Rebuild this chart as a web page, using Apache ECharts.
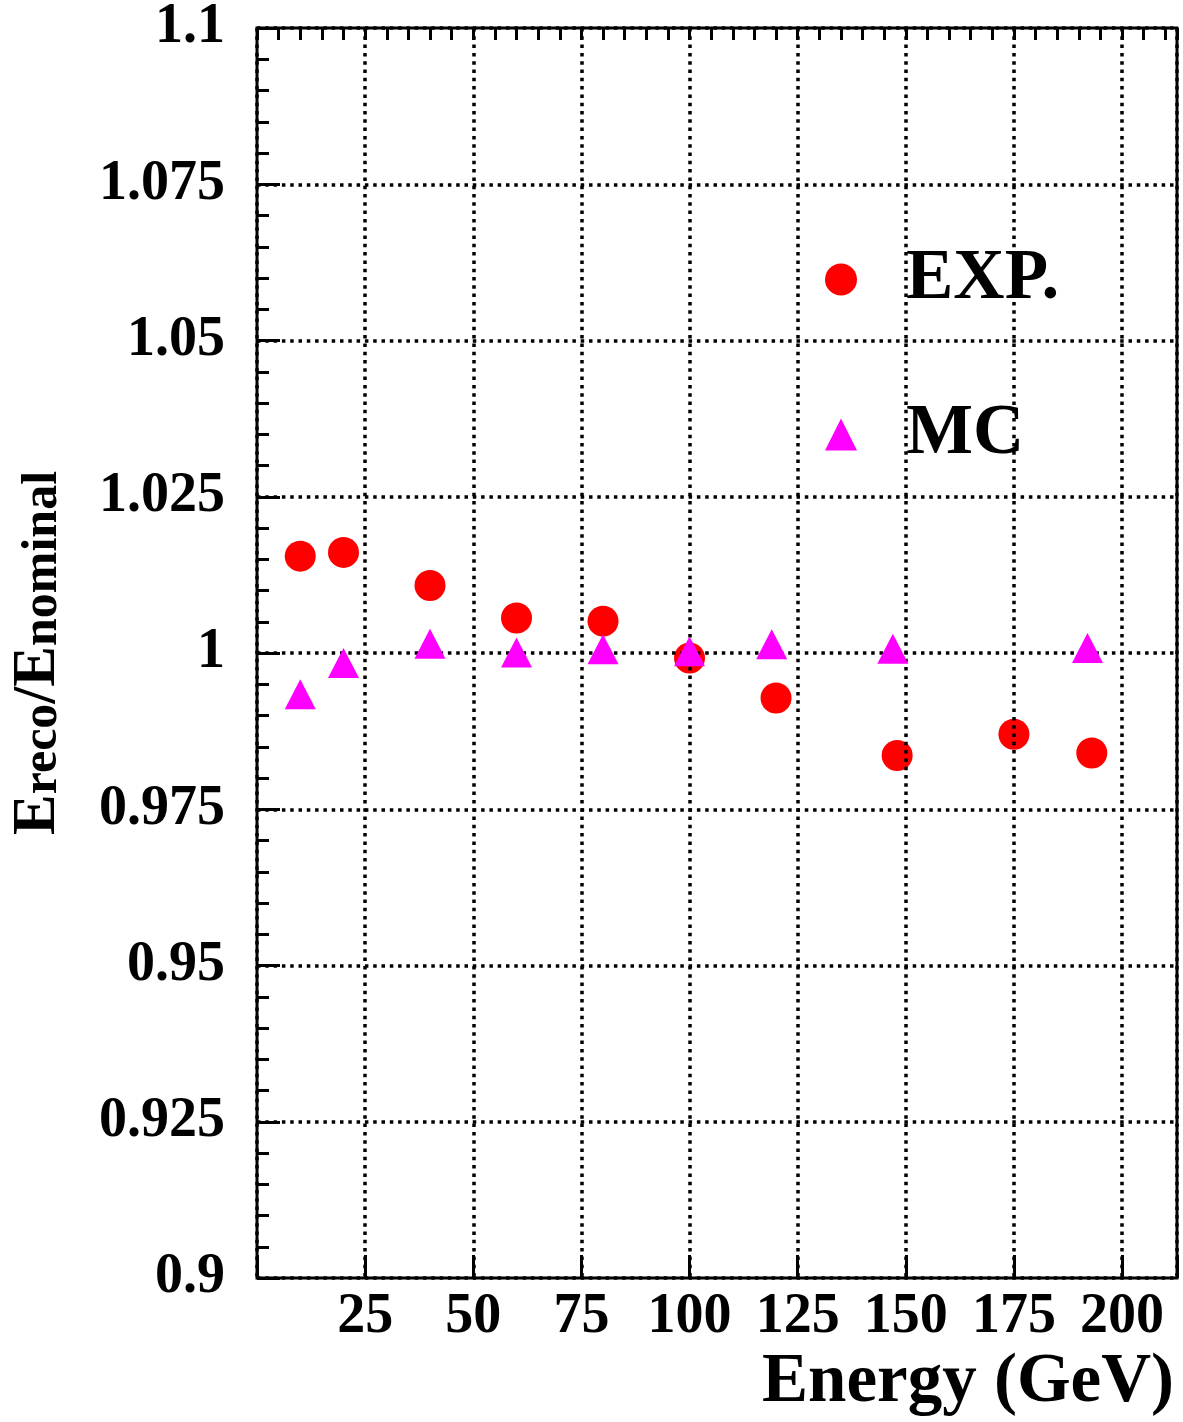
<!DOCTYPE html>
<html>
<head>
<meta charset="utf-8">
<script src="https://cdn.jsdelivr.net/npm/echarts@6/dist/echarts.min.js"></script>
<style>
  html, body { margin: 0; padding: 0; background: #fff; }
  #chart { width: 1183px; height: 1422px; }
</style>
</head>
<body>
<div id="chart"></div>
<script>
// Reconstructed energy over nominal beam energy, data and simulation
const expEnergy = [10, 20, 40, 60, 80, 100, 120, 148, 175, 193];
const expRatio  = [1.0155, 1.0161, 1.0108, 1.0056, 1.0051, 0.9992, 0.9928, 0.9836, 0.9870, 0.9840];
const mcEnergy  = [10, 20, 40, 60, 80, 100, 119, 147, 192];
const mcRatio   = [0.9934, 0.9984, 1.0015, 1.0001, 1.0006, 1.0003, 1.0014, 1.0007, 1.0008];

const xTickLabels = ['25', '50', '75', '100', '125', '150', '175', '200'];
const yTickLabels = ['0.9', '0.925', '0.95', '0.975', '1', '1.025', '1.05', '1.075', '1.1'];

const FONT = '"Liberation Serif", "Times New Roman", serif';
const GRID = { left: 257, top: 26, width: 920, height: 1252 };
const X_MIN = 0, X_MAX = 212.7;

const dotted = { color: '#000', width: 3.5, type: [3.5, 4.8] };

const chart = echarts.init(document.getElementById('chart'), null, { renderer: 'canvas' });

chart.setOption({
  animation: false,
  backgroundColor: '#fff',
  grid: Object.assign({ show: true, borderColor: '#000', borderWidth: 3, backgroundColor: 'transparent', z: 0 }, GRID),
  xAxis: [
    {
      type: 'value', min: X_MIN, max: X_MAX, interval: 25, z: 1,
      axisLine: { show: false },
      axisTick: { show: true, inside: true, length: 23, lineStyle: { color: '#000', width: 3 } },
      splitLine: { show: true, lineStyle: dotted },
      axisLabel: {
        margin: 12, color: '#000', fontFamily: FONT, fontWeight: 'bold', fontSize: 56,
        formatter: v => { const s = String(+v.toFixed(3)); return xTickLabels.includes(s) ? s : ''; }
      }
    },
    {
      // minor ticks every 5 GeV
      type: 'value', min: X_MIN, max: X_MAX, interval: 5, z: 1,
      axisLine: { show: false },
      axisTick: { show: true, inside: true, length: 12, lineStyle: { color: '#000', width: 3 } },
      splitLine: { show: false },
      axisLabel: { show: false }
    }
  ],
  yAxis: {
    type: 'value', min: 0.9, max: 1.1, interval: 0.025, z: 1,
    axisLine: { show: false },
    axisTick: { show: true, inside: true, length: 23, lineStyle: { color: '#000', width: 3 } },
    minorTick: { show: true, splitNumber: 5, length: 12, lineStyle: { color: '#000', width: 3 } },
    splitLine: { show: true, lineStyle: dotted },
    axisLabel: {
      margin: 32, color: '#000', fontFamily: FONT, fontWeight: 'bold', fontSize: 56,
      formatter: v => { const s = String(+v.toFixed(3)); return yTickLabels.includes(s) ? s : ''; }
    }
  },
  legend: {
    orient: 'vertical', left: 825, top: 244, padding: 0, z: 0.5,
    itemWidth: 32, itemHeight: 32, itemGap: 84,
    selectedMode: false,
    data: ['EXP.', 'MC'],
    formatter: name => '{g|}{t|' + name + '}',
    textStyle: {
      rich: {
        g: { width: 44 },
        t: { fontFamily: FONT, fontWeight: 'bold', fontSize: 71, lineHeight: 72, color: '#000' }
      }
    }
  },
  graphic: [
    {
      type: 'text', x: 38, y: 653, rotation: Math.PI / 2,
      style: {
        text: '{m|E}{s|reco}{m|/E}{s|nominal}',
        align: 'center', verticalAlign: 'middle', fill: '#000',
        rich: {
          m: { fontFamily: FONT, fontWeight: 'bold', fontSize: 61, lineHeight: 61, verticalAlign: 'bottom', fill: '#000' },
          s: { fontFamily: FONT, fontWeight: 'bold', fontSize: 50, lineHeight: 32, height: 50, verticalAlign: 'bottom', fill: '#000' }
        }
      }
    },
    {
      type: 'text', x: 1174, y: 1383,
      style: {
        text: 'Energy (GeV)', align: 'right', verticalAlign: 'middle', fill: '#000',
        font: 'bold 69px ' + FONT
      }
    }
  ],
  series: [
    {
      name: 'EXP.', type: 'scatter', z: 0.5,
      symbol: 'circle', symbolSize: 31,
      itemStyle: { color: '#ff0000', opacity: 1 },
      data: expEnergy.map((e, i) => [e, expRatio[i]])
    },
    {
      name: 'MC', type: 'scatter', z: 2,
      symbol: 'triangle', symbolSize: [31, 30],
      itemStyle: { color: '#ff00ff', opacity: 1 },
      data: mcEnergy.map((e, i) => [e, mcRatio[i]])
    }
  ]
});
</script>
</body>
</html>
